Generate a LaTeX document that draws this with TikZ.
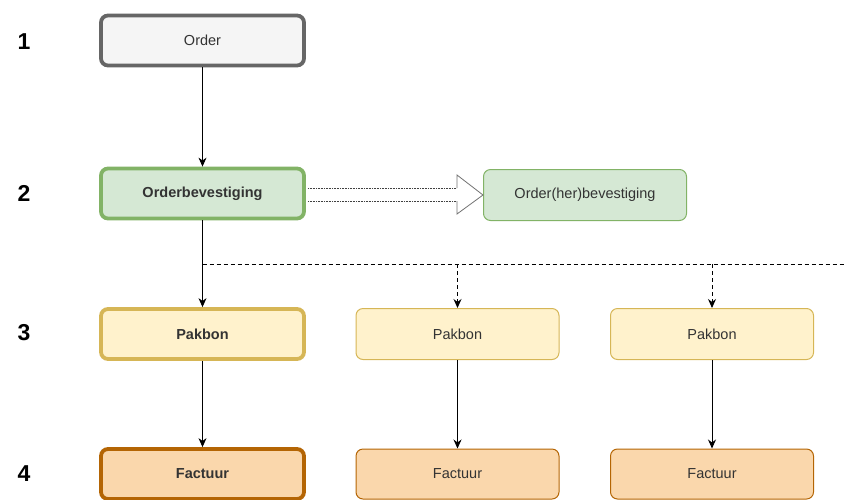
\documentclass[tikz,border=0pt]{standalone}
\usepackage{fontspec}
\setmainfont{Liberation Sans}
\usetikzlibrary{arrows.meta}
\definecolor{grayfill}{HTML}{F5F5F5}
\definecolor{graystroke}{HTML}{666666}
\definecolor{greenfill}{HTML}{D5E8D4}
\definecolor{greenstroke}{HTML}{82B366}
\definecolor{yellowfill}{HTML}{FFF2CC}
\definecolor{yellowstroke}{HTML}{D6B656}
\definecolor{orangefill}{HTML}{FAD7AC}
\definecolor{orangestroke}{HTML}{B46504}
\definecolor{txt}{HTML}{333333}
\tikzset{
  box/.style={draw, rounded corners=7pt, minimum width=203pt, minimum height=50pt, inner sep=0pt,
    font=\fontsize{14.5}{17}\selectfont, text=txt, line width=1pt},
  thickbox/.style={box, line width=3.8pt, font=\fontsize{14.5}{17}\selectfont\bfseries},
  graybox/.style={fill=grayfill, draw=graystroke},
  greenbox/.style={fill=greenfill, draw=greenstroke},
  yellowbox/.style={fill=yellowfill, draw=yellowstroke},
  orangebox/.style={fill=orangefill, draw=orangestroke},
  num/.style={font=\fontsize{23}{26}\selectfont\bfseries, inner sep=0pt},
  conn/.style={-{Stealth[length=9pt,width=8pt]}, line width=0.9pt},
  dconn/.style={conn, dash pattern=on 4pt off 3pt},
}
\begin{document}
\begin{tikzpicture}[x=1pt,y=-1pt]
\useasboundingbox (0,0) rectangle (845,499);
% numbers
\node[num] (n1) at (24,42) {1};
\node[num] (n2) at (24,193) {2};
\node[num] (n3) at (24,333) {3};
\node[num] (n4) at (24,474) {4};
% boxes
\node[box, thickbox, graybox, font=\fontsize{14.5}{17}\selectfont] (order) at (202.5,40.5) {Order};
\node[box, thickbox, greenbox] (bev) at (202.5,193.5) {Orderbevestiging};
\node[box, greenbox, minimum height=51pt] (her) at (585,195) {Order(her)bevestiging};
\node[box, thickbox, yellowbox] (p1) at (202.5,334) {Pakbon};
\node[box, yellowbox, minimum height=51pt] (p2) at (457.5,334) {Pakbon};
\node[box, yellowbox, minimum height=51pt] (p3) at (712,334) {Pakbon};
\node[box, thickbox, orangebox] (f1) at (202.5,474) {Factuur};
\node[box, orangebox] (f2) at (457.5,474) {Factuur};
\node[box, orangebox] (f3) at (712,474) {Factuur};
% connectors
\draw[conn] (order.south) -- (bev.north);
\draw[conn] (bev.south) -- (p1.north);
\coordinate (split) at (202.5,264);
\coordinate (d2) at (457.5,264);
\coordinate (d3) at (712,264);
\coordinate (dend) at (845,264);
\draw[line width=0.9pt, dash pattern=on 4pt off 3pt] (split) -- (dend);
\draw[dconn] (d2) -- (p2.north);
\draw[dconn] (d3) -- (p3.north);
\draw[conn] (p1.south) -- (f1.south |- f1.north);
\draw[conn] (p2.south) -- (f2.north);
\draw[conn] (p3.south) -- (f3.north);
% hollow arrow
\coordinate (s1) at (bev.east |- 0,188);
\coordinate (s2) at (bev.east |- 0,201);
\coordinate (h1) at (457,188);
\coordinate (h2) at (457,201);
\coordinate (ht) at (457,175);
\coordinate (hb) at (457,214);
\draw[black!75, line width=0.8pt, dash pattern=on 1pt off 0.6pt] ([xshift=2pt]s1) -- (h1);
\draw[black!75, line width=0.8pt, dash pattern=on 1pt off 0.6pt] ([xshift=2pt]s2) -- (h2);
\draw[black!55, line width=0.8pt, fill=white] (h1) -- (ht) -- (her.west) -- (hb) -- (h2);
\end{tikzpicture}
\end{document}
